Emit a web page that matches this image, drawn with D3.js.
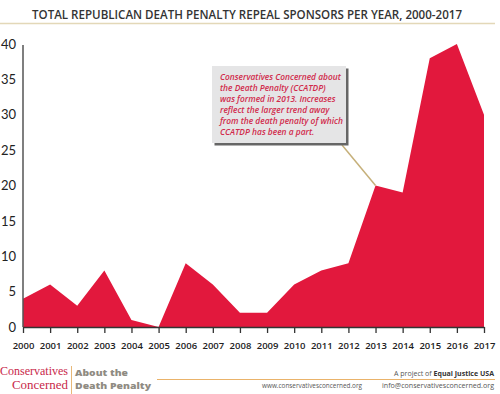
<!DOCTYPE html>
<html>
<head>
<meta charset="utf-8">
<script src="https://cdn.jsdelivr.net/npm/d3@7"></script>
<style>
  body { margin: 0; background: #fff; }
  svg { display: block; }
  text { font-family: "Open Sans", "DejaVu Sans", sans-serif; }
</style>
</head>
<body>
<div id="chart"></div>
<script>
// sponsors per year
var years = [2000, 2001, 2002, 2003, 2004, 2005, 2006, 2007, 2008, 2009,
             2010, 2011, 2012, 2013, 2014, 2015, 2016, 2017];
var sponsors = [4, 6, 3, 8, 1, 0, 9, 6, 2, 2, 6, 8, 9, 20, 19, 38, 40, 30];
var yTicks = [0, 5, 10, 15, 20, 25, 30, 35, 40];
var noteLines = [
  "Conservatives Concerned about",
  "the Death Penalty (CCATDP)",
  "was formed in 2013. Increases",
  "reflect the larger trend away",
  "from the death penalty of which",
  "CCATDP has been a part."
];
var noteYear = 2013;

var width = 500, height = 394;
var red = "#e2183d";

var svg = d3.select("#chart").append("svg")
  .attr("width", width)
  .attr("height", height);

// title
svg.append("text")
  .attr("x", 247)
  .attr("y", 19)
  .attr("text-anchor", "middle")
  .attr("textLength", 430)
  .attr("lengthAdjust", "spacingAndGlyphs")
  .style("font-size", "12px")
  .style("font-weight", "600")
  .style("fill", "#333")
  .text("TOTAL REPUBLICAN DEATH PENALTY REPEAL SPONSORS PER YEAR, 2000-2017");

svg.append("line")
  .attr("x1", 0).attr("x2", 495)
  .attr("y1", 23.5).attr("y2", 23.5)
  .attr("stroke", "#e3d8b8")
  .attr("stroke-width", 1.5);

var x = d3.scaleLinear()
  .domain([2000, 2017])
  .range([23, 484]);

var y = d3.scaleLinear()
  .domain([0, 40])
  .range([327, 44]);

var data = years.map(function(yr, i) { return { year: yr, value: sponsors[i] }; });

var area = d3.area()
  .x(function(d) { return x(d.year); })
  .y0(y(0))
  .y1(function(d) { return y(d.value); });

svg.append("path")
  .datum(data)
  .attr("d", area)
  .attr("fill", red);

// y axis
var yAxis = svg.append("g")
  .attr("transform", "translate(" + x(2000) + ",0)")
  .call(d3.axisLeft(y).tickValues(yTicks).tickSize(0).tickPadding(7));
yAxis.select(".domain")
  .attr("stroke", "#555")
  .attr("stroke-width", 1.5)
  .attr("d", "M0," + y(0) + "V" + (y(40) + 1));
yAxis.selectAll("text")
  .style("font-family", "Lato, 'Open Sans', sans-serif")
  .style("font-size", "13px")
  .style("fill", "#222");

// x axis
var xAxis = svg.append("g")
  .attr("transform", "translate(0," + y(0) + ")")
  .call(d3.axisBottom(x).tickValues(years).tickFormat(d3.format("d"))
    .tickSizeInner(6).tickSizeOuter(0).tickPadding(9));
xAxis.select(".domain").attr("stroke", "#333").attr("stroke-width", 1.5);
xAxis.selectAll(".tick line").attr("stroke", "#333").attr("stroke-width", 1.3);
xAxis.selectAll("text")
  .style("font-family", "'Open Sans', sans-serif")
  .style("font-weight", "600")
  .style("font-size", "9.5px")
  .style("fill", "#222");

// annotation
var box = { x: 212, y: 66, w: 134, h: 77 };
svg.append("line")
  .attr("x1", 342).attr("y1", box.y + box.h + 2)
  .attr("x2", x(noteYear)).attr("y2", y(sponsors[years.indexOf(noteYear)]))
  .attr("stroke", "#c6b07a")
  .attr("stroke-width", 1.5);
svg.append("rect")
  .attr("x", box.x + 2.5).attr("y", box.y + 2.5)
  .attr("width", box.w).attr("height", box.h)
  .attr("fill", "#666");
svg.append("rect")
  .attr("x", box.x).attr("y", box.y)
  .attr("width", box.w).attr("height", box.h)
  .attr("fill", "#e5e5e6");
svg.append("g").selectAll("text")
  .data(noteLines)
  .enter().append("text")
  .attr("x", box.x + 8)
  .attr("y", function(d, i) { return 80 + i * 11; })
  .style("font-size", "8.4px")
  .style("font-style", "italic")
  .style("font-weight", "600")
  .style("fill", "#d12a4b")
  .text(function(d) { return d; });

// footer
svg.append("text")
  .attr("x", 68).attr("y", 375)
  .attr("text-anchor", "end")
  .attr("textLength", 68).attr("lengthAdjust", "spacingAndGlyphs")
  .style("font-family", "'Liberation Serif', serif")
  .style("font-size", "11.5px")
  .style("fill", "#c8284a")
  .text("Conservatives");
svg.append("text")
  .attr("x", 68).attr("y", 388.5)
  .attr("text-anchor", "end")
  .attr("textLength", 56).attr("lengthAdjust", "spacingAndGlyphs")
  .style("font-family", "'Liberation Serif', serif")
  .style("font-size", "11.5px")
  .style("fill", "#c8284a")
  .text("Concerned");
svg.append("line")
  .attr("x1", 71.5).attr("x2", 71.5)
  .attr("y1", 366).attr("y2", 394)
  .attr("stroke", "#e8b878")
  .attr("stroke-width", 1);
svg.append("text")
  .attr("x", 75).attr("y", 376)
  .attr("textLength", 53).attr("lengthAdjust", "spacingAndGlyphs")
  .style("font-size", "9.5px").style("font-weight", "800")
  .style("fill", "#8f8b82")
  .text("About the");
svg.append("text")
  .attr("x", 75).attr("y", 389)
  .attr("textLength", 76).attr("lengthAdjust", "spacingAndGlyphs")
  .style("font-size", "9.5px").style("font-weight", "800")
  .style("fill", "#8f8b82")
  .text("Death Penalty");
svg.append("line")
  .attr("x1", 157).attr("x2", 495)
  .attr("y1", 379.5).attr("y2", 379.5)
  .attr("stroke", "#eab36a")
  .attr("stroke-width", 1.2);
var proj = svg.append("text")
  .attr("x", 494).attr("y", 376)
  .attr("text-anchor", "end")
  .attr("textLength", 100).attr("lengthAdjust", "spacingAndGlyphs")
  .style("font-size", "7.5px")
  .style("fill", "#555");
proj.append("tspan").text("A project of ");
proj.append("tspan").style("font-weight", "700").style("fill", "#333").text("Equal Justice USA");
svg.append("text")
  .attr("x", 362).attr("y", 388)
  .attr("text-anchor", "end")
  .attr("textLength", 100).attr("lengthAdjust", "spacingAndGlyphs")
  .style("font-size", "7.5px")
  .style("fill", "#555")
  .text("www.conservativesconcerned.org");
svg.append("text")
  .attr("x", 494).attr("y", 388)
  .attr("text-anchor", "end")
  .attr("textLength", 112).attr("lengthAdjust", "spacingAndGlyphs")
  .style("font-size", "7.5px")
  .style("fill", "#555")
  .text("info@conservativesconcerned.org");
</script>
</body>
</html>
